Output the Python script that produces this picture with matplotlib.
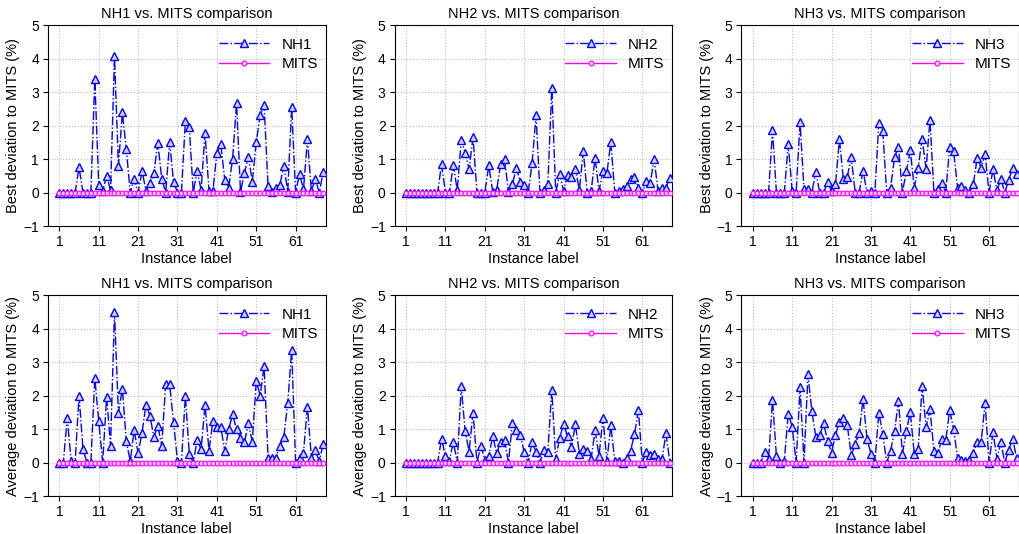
import matplotlib.pyplot as plt
import numpy as np

plt.rcParams['font.family'] = ['Liberation Sans', 'DejaVu Sans']

instances = np.arange(1, 69)

nh1_best = [0, 0, 0, 0, 0, 0.75, 0, 0, 0, 3.4, 0.23, 0.05, 0.5, 0.07, 4.07, 0.8, 2.4, 1.3, 0, 0.4,
            0, 0.65, 0.05, 0.28, 0.58, 1.47, 0.42, 0, 1.5, 0.33, 0, 0, 2.13, 1.96, 0, 0.65, 0.08, 1.78, 0.05, 0.05,
            1.19, 1.44, 0.38, 0.15, 1.01, 2.68, 0.02, 0.58, 1.07, 0.33, 1.5, 2.31, 2.61, 0.2, 0.03, 0.15, 0.23, 0.8, 0.03, 2.55,
            0, 0.55, 0.1, 1.59, 0.05, 0.4, 0, 0.62]
nh2_best = [0, 0, 0, 0, 0, 0, 0, 0, 0, 0.84, 0, 0, 0.82, 0.07, 1.57, 1.19, 0.7, 1.66, 0, 0,
            0, 0.81, 0.03, 0.07, 0.84, 1.01, 0.02, 0.25, 0.74, 0.33, 0.22, 0, 0.87, 2.31, 0, 0.08, 0.25, 3.12, 0, 0.55,
            0.05, 0.52, 0.48, 0.71, 0.08, 1.24, 0, 0.05, 1.04, 0.05, 0.65, 0.58, 1.51, 0, 0.05, 0.1, 0.2, 0.42, 0.48, 0.15,
            0, 0.35, 0.28, 1.0, 0.05, 0.15, 0.15, 0.45]
nh3_best = [0, 0, 0, 0, 0, 1.86, 0, 0, 0, 1.44, 0.05, 0, 2.1, 0.1, 0.1, 0, 0.62, 0, 0, 0.32,
            0.05, 0.25, 1.59, 0.4, 0.48, 1.06, 0, 0, 0.66, 0, 0.05, 0, 2.08, 1.85, 0, 0.15, 1.06, 1.37, 0, 0.65,
            1.26, 0.15, 0.74, 1.61, 0.71, 2.16, 0, 0.12, 0.28, 0, 1.37, 1.24, 0.15, 0.2, 0.08, 0, 0.25, 1.04, 0.74, 1.14,
            0, 0.7, 0.07, 0.4, 0, 0.38, 0.74, 0.55]

nh1_avg = [0, 0, 1.33, 0.04, 0, 2.0, 0.4, 0, 0, 2.53, 1.24, 0, 1.96, 0.5, 4.48, 1.49, 2.2, 0.64, 0.04, 0.97,
           0.28, 0.89, 1.73, 1.4, 0.77, 1.1, 0.5, 2.34, 2.34, 1.2, 0.04, 0, 2.0, 0.26, 0, 0.67, 0.4, 1.73, 0.35, 1.24,
           1.07, 1.06, 0.35, 0.99, 1.44, 0.99, 0.74, 0.6, 1.17, 0.62, 2.43, 2.0, 2.88, 0.15, 0.15, 0.15, 0.5, 0.77, 1.77, 3.37,
           0, 0.15, 0.3, 1.67, 0.15, 0.38, 0.04, 0.55]
nh2_avg = [0, 0, 0, 0, 0, 0, 0, 0, 0, 0.71, 0.2, 0.05, 0.62, 0, 2.28, 0.94, 0.33, 1.49, 0, 0.5,
           0.08, 0.2, 0.79, 0.28, 0.6, 0.67, 0, 1.19, 0.97, 0.81, 0.32, 0, 0.61, 0.32, 0, 0.38, 0.33, 2.16, 0.1, 0.74,
           1.14, 0.79, 0.47, 1.14, 0.27, 0.4, 0.35, 0.12, 0.96, 0.2, 1.34, 0.05, 1.11, 0.05, 0.05, 0, 0.15, 0.35, 0.84, 1.56,
           0, 0.32, 0.22, 0.27, 0.1, 0.1, 0.87, 0]
nh3_avg = [0, 0, 0, 0.32, 0.1, 1.86, 0.2, 0, 0.05, 1.46, 1.07, 0, 2.25, 0, 2.63, 1.54, 0.76, 0.82, 1.17, 0.64,
           0.3, 0.82, 1.22, 1.32, 1.11, 0.22, 0.55, 0.87, 1.91, 0.71, 0.27, 0, 1.49, 0.86, 0, 0.35, 0.94, 1.84, 0.27, 0.94,
           1.51, 0.27, 0.4, 2.28, 1.06, 1.59, 0.35, 0.28, 0.7, 0.66, 1.57, 0.99, 0.15, 0.08, 0.05, 0.08, 0.3, 0.62, 0.62, 1.79,
           0, 0.91, 0.12, 0.6, 0, 0.38, 0.71, 0.13]

mits = [0] * len(instances)

methods = ['NH1', 'NH2', 'NH3']
best_series = [nh1_best, nh2_best, nh3_best]
avg_series = [nh1_avg, nh2_avg, nh3_avg]
xtick_vals = [1, 11, 21, 31, 41, 51, 61]

fig, axes = plt.subplots(2, 3, figsize=(10.2, 5.34), dpi=100)
fig.subplots_adjust(left=0.047, right=0.999, top=0.953, bottom=0.071, wspace=0.249, hspace=0.343)

for row, (series, ylabel) in enumerate([(best_series, 'Best deviation to MITS (%)'),
                                        (avg_series, 'Average deviation to MITS (%)')]):
    for col in range(3):
        ax = axes[row, col]
        ax.plot(instances, series[col], linestyle='-.', color='blue', linewidth=1,
                marker='^', markersize=5.5, markerfacecolor=(0.82, 0.82, 1.0),
                markeredgecolor='blue', markeredgewidth=1, label=methods[col], zorder=3)
        ax.plot(instances, mits, linestyle='-', color='magenta', linewidth=1,
                marker='o', markersize=3.5, markerfacecolor=(1.0, 0.8, 1.0),
                markeredgecolor='magenta', markeredgewidth=0.8, label='MITS', zorder=4)
        ax.set_title(f'{methods[col]} vs. MITS comparison', fontsize=10.5, pad=5)
        ax.set_xlabel('Instance label', fontsize=10.5, labelpad=2)
        ax.set_ylabel(ylabel, fontsize=10.5, labelpad=2)
        ax.set_xticks(xtick_vals)
        ax.set_yticks(range(-1, 6))
        ax.set_xlim(-1.9, 68.6)
        ax.set_ylim(-1, 5)
        ax.tick_params(labelsize=10, pad=3)
        ax.grid(True, linestyle=':', color='#bbbbbb', linewidth=0.8)
        ax.legend(loc='upper right', bbox_to_anchor=(1.0, 0.975), frameon=False, fontsize=11,
                  handlelength=3.3, borderaxespad=0.1, labelspacing=0.35)

fig.savefig('out.png', dpi=100)
